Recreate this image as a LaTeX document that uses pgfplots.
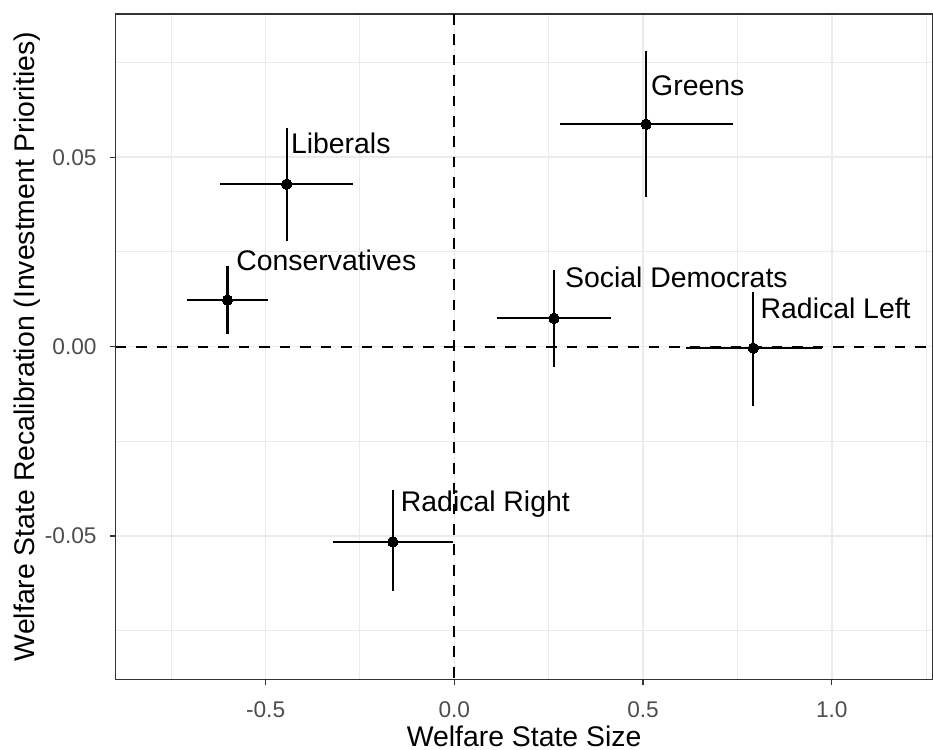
\documentclass[border=0pt]{standalone}
\usepackage{fontspec}
\setmainfont{Liberation Sans}
\usepackage{pgfplots}
\usepackage{pgfplotstable}
\pgfplotsset{compat=1.18}
\definecolor{gridc}{HTML}{EBEBEB}
\definecolor{g20}{HTML}{333333}
\definecolor{g30}{HTML}{4D4D4D}
\pgfplotstableread{
x y xp xm yp ym
-0.444 0.0429 0.175 0.177 0.0149 0.0151
-0.601 0.0123 0.107 0.108 0.0091 0.0089
0.508 0.0587 0.2295 0.227 0.0193 0.0191
0.264 0.0075 0.150 0.152 0.0126 0.0128
0.792 -0.0004 0.181 0.178 0.0149 0.0153
-0.163 -0.0515 0.159 0.159 0.0137 0.0131
}\datatab
\begin{document}
\begin{tikzpicture}
\begin{axis}[
 scale only axis, width=816.8pt, height=665.3pt,
 xmin=-0.897, xmax=1.2667, ymin=-0.0878, ymax=0.0878,
 axis line style={draw=g20, line width=1.3pt},
 xtick={-0.5,0,0.5,1}, xticklabels={-0.5,0.0,0.5,1.0},
 ytick={-0.05,0,0.05}, yticklabels={-0.05,0.00,0.05},
 minor xtick={-0.75,-0.25,0.25,0.75,1.25},
 minor ytick={-0.075,-0.025,0.025,0.075},
 grid=both,
 major grid style={line width=1.6pt, draw=gridc},
 minor grid style={line width=0.9pt, draw=gridc},
 tick align=outside, major tick length=5.5pt, minor tick length=0pt,
 major tick style={line width=1.3pt, draw=g20},
 xtick pos=bottom, ytick pos=left,
 scaled y ticks=false, scaled x ticks=false,
 tick label style={font=\fontsize{22.7pt}{27pt}\selectfont, text=g30, inner sep=0pt},
 xticklabel style={anchor=base, yshift=-32.7pt},
 yticklabel style={anchor=east, xshift=-13.4pt},
 xlabel={Welfare State Size},
 ylabel={Welfare State Recalibration (Investment Priorities)},
 label style={font=\fontsize{28.4pt}{34pt}\selectfont, text=black, inner sep=0pt},
 xlabel style={at={(axis description cs:0.5,-0.1004)}, anchor=base},
 ylabel style={at={(axis description cs:-0.09917,0.5)}, anchor=base},
]
\addplot[only marks, mark=*, mark size=5.2pt, mark options={fill=black, draw=black, line width=0pt},
 error bars/.cd, x dir=both, x explicit, y dir=both, y explicit,
 error bar style={line width=2.2pt, black}, error mark=none]
 table[x=x, y=y, x error plus=xp, x error minus=xm, y error plus=yp, y error minus=ym] {\datatab};
\node[anchor=base west, inner sep=0pt, font=\fontsize{28.4pt}{34pt}\selectfont] at (axis cs:-0.433,0.0511) {Liberals};
\node[anchor=base west, inner sep=0pt, font=\fontsize{28.4pt}{34pt}\selectfont] at (axis cs:-0.578,0.0202) {Conservatives};
\node[anchor=base west, inner sep=0pt, font=\fontsize{28.4pt}{34pt}\selectfont] at (axis cs:0.521,0.0664) {Greens};
\node[anchor=base west, inner sep=0pt, font=\fontsize{28.4pt}{34pt}\selectfont] at (axis cs:0.293,0.01567) {Social Democrats};
\node[anchor=base west, inner sep=0pt, font=\fontsize{28.4pt}{34pt}\selectfont] at (axis cs:0.811,0.0075) {Radical Left};
\node[anchor=base west, inner sep=0pt, font=\fontsize{28.4pt}{34pt}\selectfont] at (axis cs:-0.142,-0.04354) {Radical Right};
\addplot[black, line width=2pt, dash pattern=on 10.7pt off 9.7pt] coordinates {(0,0.0878) (0,-0.0878)};
\addplot[black, line width=2pt, dash pattern=on 10.7pt off 9.8pt] coordinates {(-0.897,0) (1.2667,0)};
\coordinate (bl) at (rel axis cs:0,0);
\coordinate (tr) at (rel axis cs:1,1);
\end{axis}
\pgfresetboundingbox
\path ([shift={(-115.7pt,-69.7pt)}]bl) rectangle ([shift={(0.5pt,14pt)}]tr);
\end{tikzpicture}
\end{document}
